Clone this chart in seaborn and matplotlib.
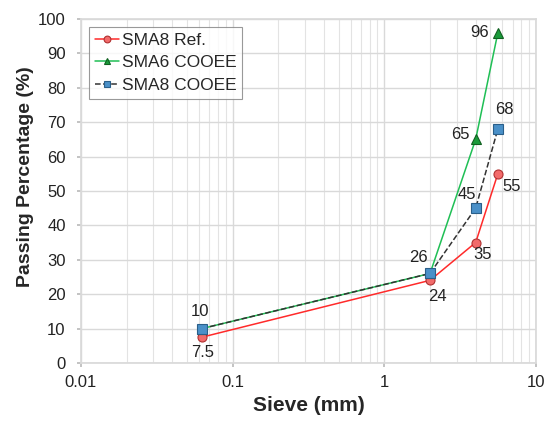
import matplotlib
matplotlib.use("Agg")
import matplotlib.pyplot as plt
import seaborn as sns
import pandas as pd
from matplotlib.ticker import FixedLocator, NullFormatter, LogLocator

sieve = [0.063, 2, 4, 5.6]
sma8_ref = [7.5, 24, 35, 55]
sma6_cooee = [10, 26, 65, 96]
sma8_cooee = [10, 26, 45, 68]
series_names = ["SMA8 Ref.", "SMA6 COOEE", "SMA8 COOEE"]

sns.set_theme(style="white")
plt.rcParams['font.family'] = ['Liberation Sans', 'DejaVu Sans']

fig = plt.figure(figsize=(5.47, 4.21), dpi=100)
ax = fig.add_axes([0.148, 0.138, 0.832, 0.817])

df = pd.DataFrame({
    "sieve": sieve * 3,
    "pct": sma8_ref + sma6_cooee + sma8_cooee,
    "series": [series_names[0]] * 4 + [series_names[1]] * 4 + [series_names[2]] * 4,
})

styles = {
    "SMA8 Ref.": dict(color="#ff2a2a", marker="o", mfc="#f26b6b", mec="#b03030", ls="-"),
    "SMA6 COOEE": dict(color="#1fbf55", marker="^", mfc="#1a9a3a", mec="#106020", ls="-"),
    "SMA8 COOEE": dict(color="#333333", marker="s", mfc="#4a90c8", mec="#2a5f8a", ls="--"),
}

for name in series_names:
    sub = df[df.series == name]
    st = styles[name]
    sns.lineplot(data=sub, x="sieve", y="pct", ax=ax, color=st["color"], linestyle=st["ls"],
                 linewidth=1.1, marker=st["marker"], markersize=6.5, markerfacecolor=st["mfc"],
                 markeredgecolor=st["mec"], markeredgewidth=0.8, label=name, legend=False)

ax.set_xscale("log")
ax.set_xlim(0.01, 10)
ax.set_ylim(0, 100)
ax.set_yticks(range(0, 101, 10))
ax.xaxis.set_major_locator(FixedLocator([0.01, 0.1, 1, 10]))
ax.set_xticklabels(["0.01", "0.1", "1", "10"])
ax.xaxis.set_minor_locator(LogLocator(base=10, subs=range(2, 10)))
ax.xaxis.set_minor_formatter(NullFormatter())
ax.grid(True, which="major", color="#d9d9d9", linewidth=1)
ax.grid(True, which="minor", axis="x", color="#e3e3e3", linewidth=0.8)
ax.set_axisbelow(True)
for s in ax.spines.values():
    s.set_color("#d9d9d9")
ax.tick_params(axis="both", which="major", labelsize=12, colors="#222222", length=3,
               direction="out", bottom=True, left=True, color="#bbbbbb")
ax.tick_params(axis="y", which="major", pad=8)
ax.tick_params(axis="x", which="major", pad=6)
ax.tick_params(axis="x", which="minor", length=0)
ax.set_xlabel("Sieve (mm)", fontsize=15, fontweight="bold", labelpad=4)
ax.set_ylabel("Passing Percentage (%)", fontsize=14, fontweight="bold")
ax.yaxis.set_label_coords(-0.103, 0.541)

fs = 12
def lab(x, y, t, dx, dy):
    ax.annotate(t, (x, y), xytext=(dx, dy), textcoords="offset points", ha="center", va="center",
                fontsize=fs, color="#222222")

lab(sieve[0], sma8_ref[0], "7.5", 0, -11)
lab(sieve[1], sma8_ref[1], "24", 5, -11.5)
lab(sieve[2], sma8_ref[2], "35", 5, -8.6)
lab(sieve[3], sma8_ref[3], "55", 10, -9.4)
lab(sieve[0], sma6_cooee[0], "10", -1.5, 12)
lab(sieve[1], sma6_cooee[1], "26", -8.6, 11.5)
lab(sieve[2], sma6_cooee[2], "65", -11, 3.6)
lab(sieve[3], sma6_cooee[3], "96", -13, 0)
lab(sieve[2], sma8_cooee[2], "45", -6, 10)
lab(sieve[3], sma8_cooee[3], "68", 5, 13.7)

leg = ax.legend(loc="upper left", bbox_to_anchor=(0.0, 1.0), fontsize=12.5, frameon=True,
                fancybox=False, edgecolor="#808080", handlelength=1.4, handletextpad=0.15,
                borderpad=0.35, labelspacing=0.42, borderaxespad=0.45, markerscale=0.75)
leg.get_frame().set_linewidth(0.8)

fig.savefig("out.png", dpi=100)
